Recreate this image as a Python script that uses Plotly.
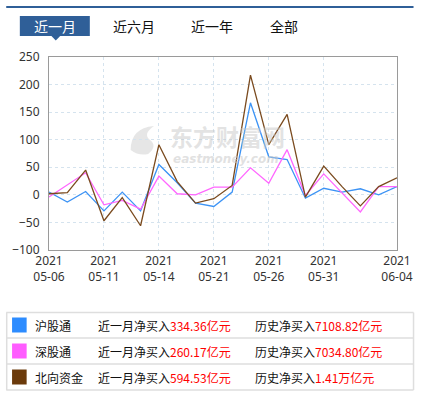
import plotly.graph_objects as go

dates = ["05-06", "05-07", "05-10", "05-11", "05-12", "05-13", "05-14", "05-18", "05-20",
         "05-21", "05-24", "05-25", "05-26", "05-27", "05-28", "05-31", "06-01", "06-02",
         "06-03", "06-04"]
year = "2021"
tick_dates = ["05-06", "05-11", "05-14", "05-21", "05-26", "05-31", "06-04"]

hu = [5, -13, 6, -29, 5, -29, 55, 22, -15, -21, 5, 167, 69, 64, -6, 12, 5, 11, 0, 15]
shen = [-4, 18, 40, -18, -10, -26, 34, 2, 0, 14, 14, 49, 21, 82, -1, 38, 3, -31, 15, 15]
north = [2, 4, 45, -47, -5, -56, 91, 24, -15, -7, 17, 217, 91, 146, -4, 52, 15, -20, 15, 31]

series_names = ["沪股通", "深股通", "北向资金"]
month_net = ["334.36亿元", "260.17亿元", "594.53亿元"]
hist_net = ["7108.82亿元", "7034.80亿元", "1.41万亿元"]
tabs = ["近一月", "近六月", "近一年", "全部"]

line_colors = ["#3c93f5", "#ff66ff", "#7a4a1e"]
swatch_colors = ["#2d8cff", "#ff5cff", "#6b3a0b"]

W, H = 425, 394
L, R, T, B = 44, 402, 57, 250


def px(x):
    return (x - L) / (R - L)


def py(y):
    return (B - y) / (B - T)


fig = go.Figure()
for name, vals, col in zip(series_names, [hu, shen, north], line_colors):
    fig.add_trace(go.Scatter(x=dates, y=vals, mode="lines", name=name,
                             line=dict(color=col, width=1.3), showlegend=False,
                             hoverinfo="skip"))

cjk = "Noto Sans CJK SC"
shapes = []
annotations = []

# top bar and tabs
shapes.append(dict(type="line", xref="paper", yref="paper", x0=px(0), x1=px(419),
                   y0=py(7), y1=py(7), line=dict(color="#2f5f98", width=2)))
shapes.append(dict(type="rect", xref="paper", yref="paper", x0=px(14), x1=px(86),
                   y0=py(36), y1=py(16), fillcolor="#2f5f98", line=dict(width=0)))
shapes.append(dict(type="path", xref="paper", yref="paper",
                   path=f"M {px(46)} {py(35.5)} L {px(56)} {py(35.5)} L {px(51)} {py(40.5)} Z",
                   fillcolor="#2f5f98", line=dict(width=0)))
tab_x = [50, 131, 211.5, 285.5]
for i, (t, tx) in enumerate(zip(tabs, tab_x)):
    annotations.append(dict(xref="paper", yref="paper", x=px(tx), y=py(26), text=t,
                            showarrow=False, xanchor="center", yanchor="middle",
                            font=dict(family=cjk, size=14, color="#ffffff" if i == 0 else "#111111")))

# watermark
annotations.append(dict(xref="paper", yref="paper", x=px(228), y=py(136), text="<b>东方财富网</b>",
                        showarrow=False, xanchor="center", yanchor="middle",
                        font=dict(family=cjk, size=23, color="rgba(200,200,200,0.5)")))
annotations.append(dict(xref="paper", yref="paper", x=px(226), y=py(159), text="<b><i>eastmoney.com</i></b>",
                        showarrow=False, xanchor="center", yanchor="middle",
                        font=dict(family="DejaVu Sans", size=12, color="rgba(200,200,200,0.55)")))
shapes.append(dict(type="path", xref="paper", yref="paper", layer="below",
                   path=(f"M {px(128)} {py(150)} Q {px(128)} {py(128)} {px(152)} {py(126)} "
                         f"Q {px(140)} {py(134)} {px(148)} {py(140)} Q {px(156)} {py(146)} {px(146)} {py(154)} "
                         f"Q {px(136)} {py(156)} {px(128)} {py(150)} Z"),
                   fillcolor="rgba(200,200,200,0.45)", line=dict(width=0)))

# legend table
row_lines = [312.5, 338, 364, 390]
for yy in row_lines:
    shapes.append(dict(type="line", xref="paper", yref="paper", x0=px(0), x1=px(419),
                       y0=py(yy), y1=py(yy), line=dict(color="#dedede", width=1.5)))
for xx in [0.5, 419]:
    shapes.append(dict(type="line", xref="paper", yref="paper", x0=px(xx), x1=px(xx),
                       y0=py(row_lines[0]), y1=py(row_lines[-1]), line=dict(color="#dedede", width=1.5)))
row_centers = [325, 351, 377]
for name, m, h, sc, yc in zip(series_names, month_net, hist_net, swatch_colors, row_centers):
    shapes.append(dict(type="rect", xref="paper", yref="paper", x0=px(6), x1=px(21),
                       y0=py(yc + 7.5), y1=py(yc - 7.5), fillcolor=sc, line=dict(width=0)))
    annotations.append(dict(xref="paper", yref="paper", x=px(28), y=py(yc), text=name,
                            showarrow=False, xanchor="left", yanchor="middle",
                            font=dict(family=cjk, size=12, color="#111111")))
    annotations.append(dict(xref="paper", yref="paper", x=px(92), y=py(yc),
                            text=f"近一月净买入<span style='color:#ff0000'>{m}</span>",
                            showarrow=False, xanchor="left", yanchor="middle",
                            font=dict(family=cjk, size=12, color="#111111")))
    annotations.append(dict(xref="paper", yref="paper", x=px(254), y=py(yc),
                            text=f"历史净买入<span style='color:#ff0000'>{h}</span>",
                            showarrow=False, xanchor="left", yanchor="middle",
                            font=dict(family=cjk, size=12, color="#111111")))

fig.update_layout(
    width=W, height=H,
    margin=dict(l=L, r=W - R, t=T, b=H - B),
    paper_bgcolor="#ffffff", plot_bgcolor="#ffffff",
    shapes=shapes, annotations=annotations,
    showlegend=False,
    font=dict(family="Noto Sans", size=12, color="#333333"),
)
fig.update_xaxes(
    type="category", categoryorder="array", categoryarray=dates,
    range=[0, len(dates) - 1],
    tickmode="array", tickvals=tick_dates, ticktext=[f"{year}<br>{d}" for d in tick_dates],
    showgrid=True, gridcolor="#d5e3ee", griddash="3px,3px", gridwidth=1,
    showline=True, linecolor="#9a9a9a", linewidth=1, mirror=True,
    ticks="", tickfont=dict(family="Noto Sans", size=12, color="#333333"),
    zeroline=False,
)
fig.update_yaxes(
    range=[-100, 250], dtick=50, tick0=0,
    showgrid=True, gridcolor="#d5e3ee", griddash="3px,3px", gridwidth=1,
    showline=True, linecolor="#9a9a9a", linewidth=1, mirror=True,
    ticks="", ticklabelstandoff=6, tickfont=dict(family="Noto Sans", size=12, color="#333333"),
    zeroline=False,
)

fig.write_html("out.html", config={"displayModeBar": False},
               post_script="document.body.style.margin='0';document.body.style.overflow='hidden';")
